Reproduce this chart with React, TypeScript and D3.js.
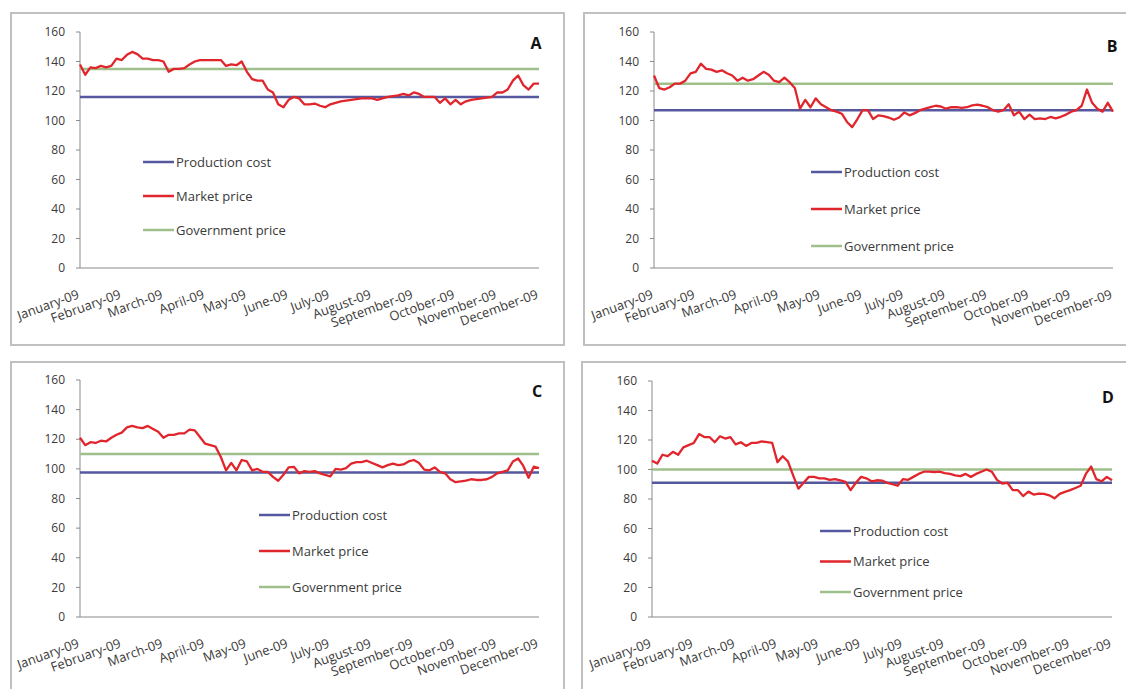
import React from "react";
import * as d3 from "d3";

const MONTHS = [
  "January-09", "February-09", "March-09", "April-09", "May-09", "June-09",
  "July-09", "August-09", "September-09", "October-09", "November-09", "December-09",
];
const Y_TICKS = [0, 20, 40, 60, 80, 100, 120, 140, 160];
const PANEL_LETTERS = ["A", "B", "C", "D"];
const PRODUCTION_COST = [116, 107, 97.5, 91];
const GOVERNMENT_PRICE = [135, 125, 110, 100];
const LEGEND_LABELS = ["Production cost", "Market price", "Government price"];
// samples every 1/8 month from January-09 to December-09
const SAMPLES_PER_MONTH = 8;

const marketA = [
  138, 131, 136, 135.5, 137, 136, 137, 142, 141, 144.5, 146.5, 145, 142, 142, 141, 141,
  140, 133, 135, 135, 135.5, 138, 140, 141, 141, 141, 141, 141, 137, 138, 137.5, 140,
  133, 128, 127, 127, 121, 119, 111, 109, 114, 116, 115, 111, 111, 111.5, 110, 109,
  111, 112, 113, 113.5, 114, 114.5, 115, 115, 115, 114, 115, 116, 116.5, 117, 118, 117,
  119, 118, 116, 116, 116, 112, 115, 111, 114, 111, 113, 114, 114.5, 115, 115.5, 116,
  119, 119, 121, 127, 130.5, 124, 121, 125, 125,
];
const marketB = [
  130.5, 122, 121, 122.5, 125, 125, 127, 132, 133, 138.5, 135, 134.5, 133, 134, 132, 130.5,
  127, 129, 127, 128, 130.5, 133, 131, 127, 126, 129, 126, 122, 108, 114, 109, 115,
  111, 109, 107, 106, 104.6, 99, 95.5, 101, 107, 107, 101, 103.5, 103, 102, 100.5, 102,
  105.5, 103.5, 105, 107, 108, 109, 110, 109.5, 108, 109, 109, 108.5, 109, 110.3, 110.7, 110,
  109, 107, 106, 107, 111, 103.5, 106, 101, 104, 101, 101.5, 101, 102.4, 101.5, 102.5, 104,
  106, 107, 110, 121, 112, 108, 106, 112, 106,
];
const marketC = [
  121, 116, 118, 117.5, 119, 118.5, 121, 123, 124.5, 128, 129, 128, 127.5, 129, 127, 125,
  121, 123, 123, 124, 124, 126.5, 126, 121.5, 117, 116, 115, 108, 99, 104, 99, 106,
  105, 99, 100, 98, 98, 94.6, 92, 96, 101, 101.4, 97, 98.5, 98, 98.5, 97, 96,
  95, 100, 99.5, 100.5, 103.5, 104.5, 104.5, 105.5, 104, 102.5, 101, 102.5, 103.5, 102.5, 103, 105,
  106, 104, 99.5, 99, 101, 98, 97, 93, 91, 91.5, 92, 93, 92.5, 92.5, 93, 94.6,
  97, 98, 99, 105, 107, 102, 94, 101.5, 100.5,
];
const marketD = [
  106, 104, 110, 109, 112, 110, 115, 116.5, 118, 124, 122, 122, 118.5, 122.5, 121, 122,
  117, 118.5, 116, 118, 118, 119, 118.5, 118, 105, 109, 105.5, 96, 87, 91, 95, 95,
  94, 94, 93, 93.5, 92.7, 91.6, 86, 91, 95, 94, 92, 92.7, 92.5, 91, 90, 89,
  93.5, 93, 95, 97, 98.5, 98.5, 98.3, 98.5, 97.5, 97, 96, 95.5, 97, 95, 97, 98.5,
  100, 98.5, 93, 90.5, 91, 86, 86, 82, 85, 83, 83.7, 83.5, 82.5, 80.5, 83.5, 84.8,
  86, 87.5, 89, 97, 102, 93.5, 92, 95, 92.7,
];
const MARKET = [marketA, marketB, marketC, marketD];

const COLORS = { prod: "#55589f", market: "#e0262c", gov: "#9fc08a", axis: "#8a8a8a", text: "#3a3a3a", border: "#c0c0c0" };
const FONT = "'Open Sans', 'Noto Sans', sans-serif";

type Layout = {
  x0: number; x1: number; y0: number; y1: number;
  bx: number; by: number; bw: number; bh: number;
  lx: number; ly: number; ldy: number;
  tx: number; ty: number;
};

const LAYOUTS: Layout[] = [
  { x0: 80, x1: 539, y0: 268, y1: 32, bx: 11, by: 13, bw: 553, bh: 332, lx: 143, ly: 162, ldy: 34, tx: 536, ty: 43 },
  { x0: 654, x1: 1113, y0: 268, y1: 32, bx: 584, by: 13, bw: 560, bh: 332, lx: 811, ly: 172, ldy: 37, tx: 1112, ty: 46 },
  { x0: 80, x1: 539, y0: 617, y1: 380, bx: 11, by: 362, bw: 553, bh: 340, lx: 259, ly: 515, ldy: 36, tx: 537, ty: 391 },
  { x0: 652, x1: 1112, y0: 617, y1: 381, bx: 582, by: 362, bw: 560, bh: 340, lx: 820, ly: 531, ldy: 30.5, tx: 1108, ty: 397 },
];

function Panel({ idx }: { idx: number }) {
  const L = LAYOUTS[idx];
  const x = d3.scaleLinear().domain([0, MONTHS.length - 1]).range([L.x0, L.x1]);
  const y = d3.scaleLinear().domain([0, 160]).range([L.y0, L.y1]);
  const data = MARKET[idx];
  const line = d3
    .line<number>()
    .x((_, i) => x(i / SAMPLES_PER_MONTH))
    .y((v) => y(v))
    .curve(d3.curveLinear);
  const prod = PRODUCTION_COST[idx];
  const gov = GOVERNMENT_PRICE[idx];
  const legendColors = [COLORS.prod, COLORS.market, COLORS.gov];
  return (
    <g>
      <rect x={L.bx} y={L.by} width={L.bw} height={L.bh} fill="#fff" stroke={COLORS.border} strokeWidth={2} />
      {/* y axis */}
      <line x1={L.x0} x2={L.x0} y1={y(0)} y2={y(160)} stroke={COLORS.axis} strokeWidth={1} />
      {Y_TICKS.map((t) => (
        <g key={t}>
          <line x1={L.x0 - 4} x2={L.x0} y1={y(t)} y2={y(t)} stroke={COLORS.axis} strokeWidth={1} />
          <text x={L.x0 - 15} y={y(t)} dy="0.35em" textAnchor="end" fontSize={12} fill={COLORS.text} fontFamily={FONT}>
            {t}
          </text>
        </g>
      ))}
      {/* x axis */}
      <line x1={L.x0} x2={L.x1} y1={y(0)} y2={y(0)} stroke={COLORS.axis} strokeWidth={1} />
      {MONTHS.map((m, i) => (
        <text
          key={m}
          transform={`translate(${x(i)},${y(0) + 30}) rotate(-20)`}
          textAnchor="end"
          fontSize={13}
          fill={COLORS.text}
          fontFamily={FONT}
        >
          {m}
        </text>
      ))}
      {/* reference lines */}
      <line x1={x(0)} x2={x(11)} y1={y(gov)} y2={y(gov)} stroke={COLORS.gov} strokeWidth={2.5} />
      <line x1={x(0)} x2={x(11)} y1={y(prod)} y2={y(prod)} stroke={COLORS.prod} strokeWidth={2.5} />
      <path d={line(data) || ""} fill="none" stroke={COLORS.market} strokeWidth={2.3} strokeLinejoin="round" />
      {/* legend */}
      {LEGEND_LABELS.map((lab, i) => (
        <g key={lab}>
          <line x1={L.lx} x2={L.lx + 31} y1={L.ly + i * L.ldy} y2={L.ly + i * L.ldy} stroke={legendColors[i]} strokeWidth={2.5} />
          <text x={L.lx + 33} y={L.ly + i * L.ldy} dy="0.35em" fontSize={13} fill={COLORS.text} fontFamily={FONT}>
            {lab}
          </text>
        </g>
      ))}
      <text x={L.tx} y={L.ty} dy="0.36em" textAnchor="middle" fontSize={16} fontWeight="bold" fill="#111" fontFamily={FONT}>
        {PANEL_LETTERS[idx]}
      </text>
    </g>
  );
}

export default function App() {
  return (
    <svg
      width={1126}
      height={689}
      viewBox="0 0 1126 689"
      style={{ position: "absolute", left: 0, top: 0, background: "#fff" }}
    >
      <rect x={0} y={0} width={1126} height={689} fill="#fff" />
      {PANEL_LETTERS.map((_, i) => (
        <Panel key={i} idx={i} />
      ))}
    </svg>
  );
}
